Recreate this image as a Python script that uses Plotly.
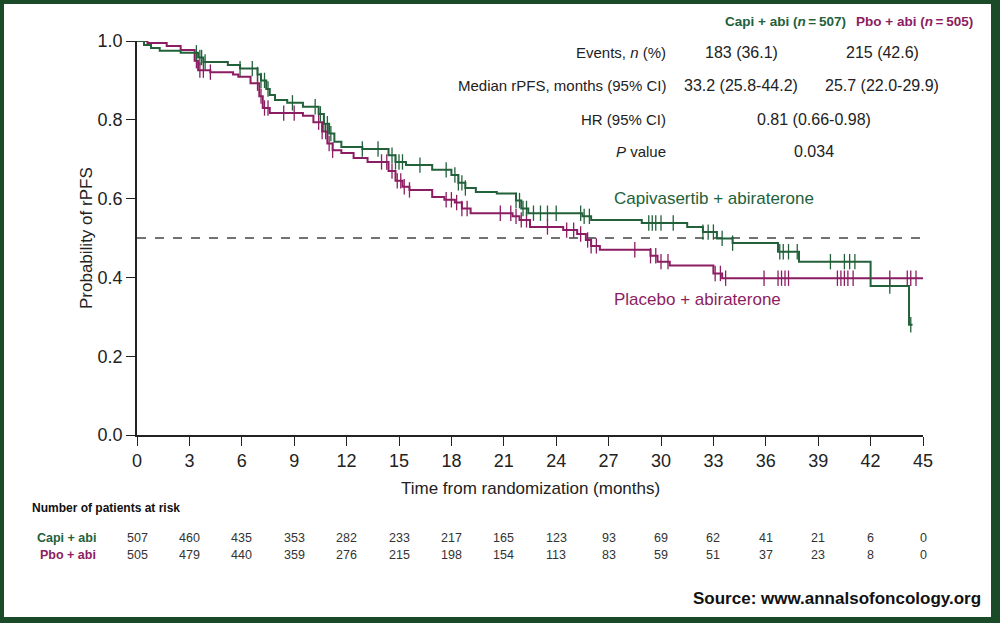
import numpy as np
import plotly.graph_objects as go

# ---------------- data ----------------
capi_t = [0, 0.4, 0.8, 1.3, 2.5, 3.5, 3.8, 5.2, 5.9, 6.9, 7.1, 7.4, 7.6, 7.9, 8.6, 9.5,
          10.4, 10.7, 11.0, 11.3, 11.7, 12.9, 14.4, 14.8, 15.4, 16.9, 18.0, 18.4, 18.8,
          19.4, 20.6, 21.7, 22.0, 22.4, 25.5, 26.0, 28.9, 31.5, 32.4, 33.2, 34.1, 36.7,
          37.9, 42.0, 44.2, 44.4]
capi_s = [1.0, 0.99, 0.982, 0.975, 0.97, 0.958, 0.947, 0.939, 0.93, 0.915, 0.90, 0.878,
          0.863, 0.85, 0.843, 0.833, 0.815, 0.79, 0.765, 0.744, 0.731, 0.726, 0.71, 0.693,
          0.685, 0.673, 0.66, 0.64, 0.627, 0.617, 0.613, 0.595, 0.575, 0.563, 0.555, 0.546,
          0.538, 0.528, 0.515, 0.499, 0.487, 0.465, 0.44, 0.378, 0.28, 0.28]

pbo_t = [0, 0.6, 1.7, 2.5, 3.3, 3.5, 4.2, 5.5, 5.8, 6.5, 7.0, 7.2, 7.6, 9.5, 10.1, 10.6,
         10.9, 11.2, 11.7, 12.4, 13.2, 14.4, 14.8, 15.2, 15.6, 16.9, 17.6, 18.2, 18.6,
         19.1, 21.5, 21.9, 22.5, 24.4, 25.2, 25.7, 26.0, 26.5, 29.4, 29.8, 30.5, 33.0,
         33.5, 45.0]
pbo_s = [1.0, 0.995, 0.987, 0.977, 0.95, 0.926, 0.921, 0.915, 0.909, 0.893, 0.86, 0.83,
         0.817, 0.81, 0.794, 0.77, 0.74, 0.723, 0.716, 0.703, 0.693, 0.67, 0.645, 0.63,
         0.622, 0.604, 0.597, 0.59, 0.575, 0.563, 0.555, 0.546, 0.528, 0.52, 0.51, 0.495,
         0.48, 0.47, 0.455, 0.44, 0.43, 0.41, 0.398, 0.398]

capi_cens = [3.4, 3.6, 3.7, 3.9, 5.9, 6.6, 6.9, 7.1, 7.3, 7.5, 8.9, 10.2, 10.5, 10.7, 10.9,
             11.1, 12.9, 13.8, 14.6, 14.8, 15.0, 15.2, 16.2, 17.7, 18.2, 18.4, 18.6, 18.8,
             21.7, 21.9, 22.1, 22.3, 22.7, 23.1, 23.5, 24.0, 25.4, 25.6, 25.9, 29.3, 29.5,
             29.7, 30.0, 30.7, 32.4, 32.7, 33.0, 33.5, 34.1, 36.8, 37.0, 37.3, 37.8, 39.7,
             40.5, 40.8, 41.1, 43.1, 44.3]
pbo_cens = [3.4, 3.6, 3.8, 4.2, 6.9, 7.1, 7.3, 7.5, 8.4, 9.0, 10.4, 10.6, 10.8, 11.0, 11.2,
            14.0, 14.3, 14.6, 14.9, 15.1, 15.3, 15.6, 17.7, 18.0, 18.3, 18.6, 18.9, 20.8,
            21.4, 21.7, 22.0, 22.3, 23.5, 24.6, 25.0, 25.4, 25.8, 26.0, 26.3, 28.5, 29.4,
            29.7, 30.0, 30.4, 33.1, 33.4, 33.7, 35.9, 36.7, 36.9, 37.1, 37.3, 40.1, 40.3,
            40.5, 40.7, 41.0, 43.1, 44.1, 44.3, 44.6]

risk_times = [0, 3, 6, 9, 12, 15, 18, 21, 24, 27, 30, 33, 36, 39, 42, 45]
risk_capi = [507, 460, 435, 353, 282, 233, 217, 165, 123, 93, 69, 62, 41, 21, 6, 0]
risk_pbo = [505, 479, 440, 359, 276, 215, 198, 154, 113, 83, 59, 51, 37, 23, 8, 0]

header_capi = "Capi + abi (<i>n</i>\u2009=\u2009507)"
header_pbo = "Pbo + abi (<i>n</i>\u2009=\u2009505)"
row_labels = ["Events, <i>n</i> (%)", "Median rPFS, months (95% CI)", "HR (95% CI)", "<i>P</i> value"]
capi_vals = ["183 (36.1)", "33.2 (25.8-44.2)"]
pbo_vals = ["215 (42.6)", "25.7 (22.0-29.9)"]
shared_vals = ["0.81 (0.66-0.98)", "0.034"]

GREEN = "#22613a"
PURPLE = "#8c1d62"
FRAME = "#1a4a27"
FONT = "Liberation Sans, Arial, sans-serif"

# ---------------- geometry helpers ----------------
L, R, T, B = 137, 923, 41, 435
W, H = 1000, 623


def px(x):
    return (x - L) / (R - L)


def py(y):
    return (B - y) / (B - T)


def step_lookup(times, surv, pts):
    idx = np.searchsorted(np.array(times), np.array(pts), side="right") - 1
    return [surv[i] for i in idx]


fig = go.Figure()

# median reference line
fig.add_trace(go.Scatter(x=[0, 45], y=[0.5, 0.5], mode="lines",
                         line=dict(color="#444444", width=1.3, dash="dash"),
                         hoverinfo="skip", showlegend=False))

for t, s, c, col in [(pbo_t, pbo_s, pbo_cens, PURPLE), (capi_t, capi_s, capi_cens, GREEN)]:
    fig.add_trace(go.Scatter(x=t, y=s, mode="lines", line=dict(color=col, width=2, shape="hv"),
                             showlegend=False, cliponaxis=False))
    fig.add_trace(go.Scatter(x=c, y=step_lookup(t, s, c), mode="markers",
                             marker=dict(symbol="line-ns-open", size=11, color=col,
                                         line=dict(color=col, width=1.3)),
                             showlegend=False, cliponaxis=False))

annotations = []


def ann(text, x, y, size, color="#222222", xanchor="center", bold=False, **kw):
    if bold:
        text = "<b>" + text + "</b>"
    annotations.append(dict(text=text, x=px(x), y=py(y), xref="paper", yref="paper",
                            xanchor=xanchor, yanchor="middle", showarrow=False,
                            font=dict(family=FONT, size=size, color=color), **kw))


# header table
ann(header_capi, 785, 22, 13.5, GREEN, bold=True)
ann(header_pbo, 914, 22, 13.5, PURPLE, bold=True)
row_y = [53, 86, 119, 151]
for lab, y in zip(row_labels, row_y):
    ann(lab, 668, y, 15, "#222222", xanchor="right")
for i, v in enumerate(capi_vals):
    ann(v, 741, row_y[i], 16)
for i, v in enumerate(pbo_vals):
    ann(v, 882, row_y[i], 16)
for i, v in enumerate(shared_vals):
    ann(v, 814, row_y[2 + i], 16)

# curve labels
ann("Capivasertib + abiraterone", 612, 198, 17, GREEN, xanchor="left")
ann("Placebo + abiraterone", 612, 299, 17, PURPLE, xanchor="left")

# axis titles
ann("Time from randomization (months)", 530, 488, 17)
ann("Probability of rPFS", 86, 238, 17, textangle=-90)

# risk table
ann("Number of patients at risk", 30, 508, 12, "#111111", xanchor="left", bold=True)
ann("Capi + abi", 98, 538, 12.5, GREEN, xanchor="right", bold=True)
ann("Pbo + abi", 98, 555, 12.5, PURPLE, xanchor="right", bold=True)
for tt, a, b in zip(risk_times, risk_capi, risk_pbo):
    xp = L + tt / 45 * (R - L)
    ann(str(a), xp, 538, 12.5, "#333333")
    ann(str(b), xp, 555, 12.5, "#333333")

# source
ann("Source: www.annalsofoncology.org", 983, 598, 17, "#111111", xanchor="right", bold=True)

shapes = [dict(type="rect", xref="paper", yref="paper", layer="below",
               x0=px(4), x1=px(991), y0=py(617), y1=py(4),
               fillcolor="white", line=dict(width=0))]

fig.update_layout(
    width=W, height=H,
    margin=dict(l=L, r=W - R, t=T, b=H - B),
    paper_bgcolor=FRAME, plot_bgcolor="rgba(0,0,0,0)",
    showlegend=False,
    annotations=annotations, shapes=shapes,
    font=dict(family=FONT, color="#222222"),
    xaxis=dict(range=[0, 45], tickmode="array", tickvals=risk_times,
               ticks="outside", ticklen=9, tickwidth=1.3, tickcolor="#222222",
               showline=True, linecolor="#222222", linewidth=1.5,
               showgrid=False, zeroline=False, tickfont=dict(size=18, color="#222222")),
    yaxis=dict(range=[0, 1], tickmode="array", tickvals=[0, 0.2, 0.4, 0.6, 0.8, 1.0],
               tickformat=".1f",
               ticks="outside", ticklen=9, tickwidth=1.3, tickcolor="#222222",
               showline=True, linecolor="#222222", linewidth=1.5,
               showgrid=False, zeroline=False, tickfont=dict(size=18, color="#222222")),
)

fig.write_html("out.html", config={"displayModeBar": False},
               post_script="document.body.style.margin='0';document.body.style.padding='0';"
                           "document.body.style.overflow='hidden';"
                           "document.body.style.background='" + FRAME + "';")
